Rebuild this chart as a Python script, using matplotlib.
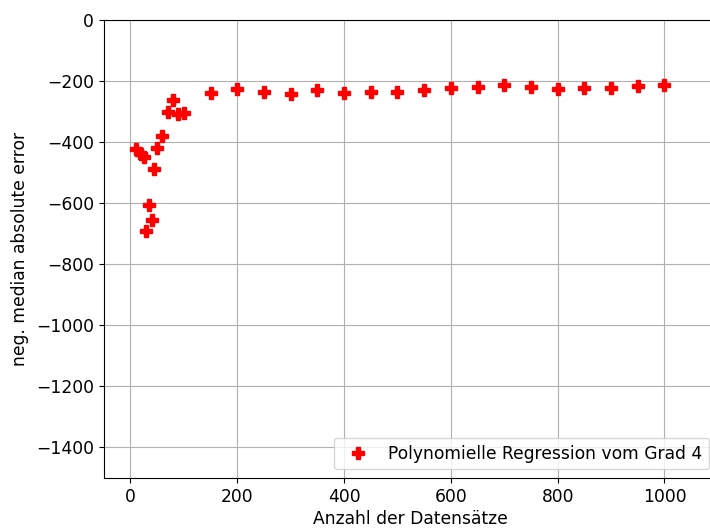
import matplotlib
matplotlib.use("Agg")
import matplotlib.pyplot as plt

# Training set sizes and the resulting negative median absolute error
anzahl = [10, 20, 25, 30, 35, 40, 45, 50, 60, 70, 80, 90, 100,
          150, 200, 250, 300, 350, 400, 450, 500, 550, 600,
          650, 700, 750, 800, 850, 900, 950, 1000]
fehler = [-424, -438, -449, -692, -608, -654, -490, -420, -381, -302, -263, -310, -305,
          -241, -228, -236, -244, -229, -241, -237, -238, -230, -224,
          -220, -215, -220, -226, -223, -222, -218, -215]

label = "Polynomielle Regression vom Grad 4"
fs = 12.3

fig = plt.figure(figsize=(7.10, 5.31), dpi=100)
ax = fig.add_axes([0.1461, 0.0998, 0.865, 0.863])

ax.plot(anzahl, fehler, linestyle="none", marker="P", color="red",
        markersize=9, label=label)

ax.set_xlim(-50, 1100)
ax.set_ylim(-1500, 0)
ax.set_xticks([0, 200, 400, 600, 800, 1000])
ax.set_yticks(range(-1400, 1, 200))
ax.grid(True, color="#b0b0b0", linewidth=0.8)
ax.set_axisbelow(True)
ax.tick_params(labelsize=fs)

ax.set_xlabel("Anzahl der Datensätze", fontsize=fs, labelpad=3)
ax.set_ylabel("neg. median absolute error", fontsize=fs, labelpad=5)
ax.legend(loc="lower right", fontsize=fs, numpoints=1)

fig.savefig("out.png", dpi=100)
